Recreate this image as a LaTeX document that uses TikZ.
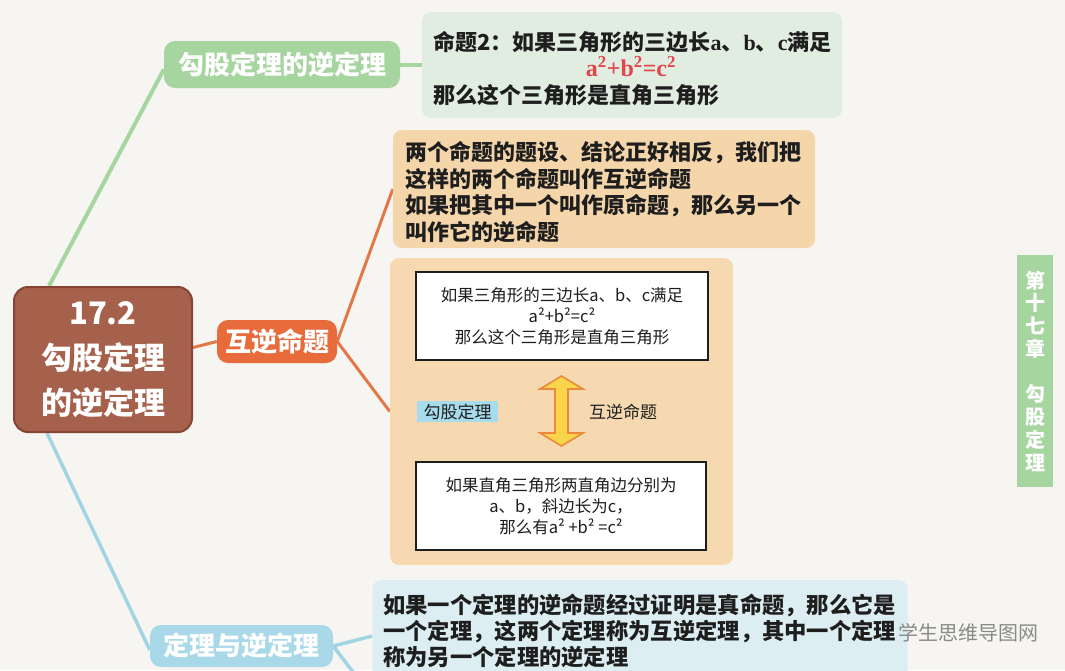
\documentclass[tikz,border=0pt]{standalone}
\usepackage{fontspec}
\setmainfont{Noto Sans CJK SC}
\newfontfamily\serifb{Liberation Serif}
\usetikzlibrary{calc}
\pgfdeclarelayer{bgl}
\pgfdeclarelayer{linel}
\pgfsetlayers{bgl,linel,main}
\definecolor{bgc}{HTML}{F6F5F2}
\definecolor{brownF}{HTML}{A5614B}
\definecolor{brownD}{HTML}{874434}
\definecolor{greenN}{HTML}{A6D5A0}
\definecolor{greenB}{HTML}{E2EDE2}
\definecolor{orangeN}{HTML}{E86B3C}
\definecolor{orangeL}{HTML}{E27848}
\definecolor{peach}{HTML}{F5D6AA}
\definecolor{peachB}{HTML}{F6D9B1}
\definecolor{blueN}{HTML}{A9D9E8}
\definecolor{blueL}{HTML}{A2D5E3}
\definecolor{blueB}{HTML}{DCEEF2}
\definecolor{lblue}{HTML}{A6DCEC}
\definecolor{arrowF}{HTML}{F8D54A}
\definecolor{arrowD}{HTML}{EA8A3A}
\definecolor{redF}{HTML}{E0464A}
\definecolor{txt}{HTML}{1E1E1E}
\definecolor{wm}{HTML}{8A8A8A}
\begin{document}
\begin{tikzpicture}[x=1pt,y=-1pt,
  cnode/.style={draw=brownD,line width=2pt,fill=brownF,rounded corners=14pt,
    minimum width=178pt,minimum height=145pt,text=white,align=center,inner sep=0pt,
    font=\fontsize{31}{45}\selectfont\bfseries},
  branch/.style={rounded corners=11pt,text=white,inner sep=0pt,
    font=\fontsize{26}{30}\selectfont\bfseries},
  pbox/.style={rounded corners=9pt,inner sep=0pt},
  booktxt/.style={anchor=west,align=left,inner sep=0pt,text=txt},
  wbox/.style={draw=txt,line width=1.6pt,fill=white,inner sep=0pt,align=center,
    minimum width=290pt,minimum height=88pt,text=txt,font=\fontsize{16.5}{21}\selectfont},
  gline/.style={greenN,line width=4pt},
  oline/.style={orangeL,line width=3pt},
  bline/.style={blueL,line width=3.5pt}]
\useasboundingbox (0,0) rectangle (1065,670);
\begin{pgfonlayer}{bgl}
\fill[bgc] (0,0) rectangle (1065,670);
\end{pgfonlayer}

% central node
\node[cnode] (center) at (103,359.5) {17.2\\勾股定理\\的逆定理};

% branch nodes
\node[branch,fill=greenN,minimum width=236pt,minimum height=47pt] (gn) at (282,64.5) {勾股定理的逆定理};
\node[branch,fill=orangeN,minimum width=120pt,minimum height=43pt] (on) at (277,341.5) {互逆命题};
\node[branch,fill=blueN,minimum width=183pt,minimum height=42pt] (bn) at (241.5,646) {定理与逆定理};

% green content
\node[pbox,fill=greenB,minimum width=420pt,minimum height=106pt] (gbox) at (632,65) {};
\node[booktxt,font=\fontsize{22}{26}\selectfont\bfseries] (g1) at (433,42) {命题2：如果三角形的三边长{\serifb a}、{\serifb b}、{\serifb c}满足};
\node[inner sep=0pt,text=redF,font=\fontsize{24}{26}\selectfont\bfseries\serifb] (g2) at (631,67) {a\textsuperscript{2}+b\textsuperscript{2}=c\textsuperscript{2}};
\node[booktxt,font=\fontsize{22}{26}\selectfont\bfseries] (g3) at (433,95) {那么这个三角形是直角三角形};

% orange content 1
\node[pbox,fill=peach,minimum width=422pt,minimum height=118pt] (ob1) at (604,189) {};
\node[booktxt,font=\fontsize{22}{26.7}\selectfont\bfseries] (o1t) at (405,192) {两个命题的题设、结论正好相反，我们把\\这样的两个命题叫作互逆命题\\如果把其中一个叫作原命题，那么另一个\\叫作它的逆命题};

% orange content 2
\node[pbox,fill=peachB,minimum width=343pt,minimum height=307pt] (ob2) at (561.5,411.5) {};
\node[wbox,minimum width=292pt] (w1) at (562,316) {如果三角形的三边长a、b、c满足\\a²+b²=c²\\那么这个三角形是直角三角形};
\node[wbox] (w2) at (561,506) {如果直角三角形两直角边分别为\\a、b，斜边长为c，\\那么有a² +b² =c²};
\node[fill=lblue,minimum width=81pt,minimum height=21pt,inner sep=0pt,text=txt,
  font=\fontsize{17}{20}\selectfont] (lbl) at (457.5,411.5) {勾股定理};
\node[inner sep=0pt,text=txt,font=\fontsize{17}{20}\selectfont] (hn) at (623,412) {互逆命题};
% double arrow
\draw[arrowD,fill=arrowF,line width=1.6pt,line join=miter]
  (561.5,376) -- (583,389) -- (568,389) -- (568,433) -- (583,433) -- (561.5,446)
  -- (540,433) -- (555,433) -- (555,389) -- (540,389) -- cycle;

% blue content
\node[pbox,fill=blueB,minimum width=535pt,minimum height=100pt] (bbox) at (640,630) {};
\node[booktxt,font=\fontsize{22.3}{26}\selectfont\bfseries] (b1t) at (383,631) {如果一个定理的逆命题经过证明是真命题，那么它是\\一个定理，这两个定理称为互逆定理，其中一个定理\\称为另一个定理的逆定理};

% side label
\node[fill=greenN,minimum width=36pt,minimum height=232pt,inner sep=0pt,text=white,align=center,
  font=\fontsize{20}{22.75}\selectfont\bfseries] (side) at (1035,371) {第\\十\\七\\章\\[22.75pt]勾\\股\\定\\理};

% watermark
\node[inner sep=0pt,text=wm,font=\fontsize{20}{22}\selectfont] (wmk) at (968,633) {学生思维导图网};

\coordinate (bdown) at (353,672);

% connectors
\begin{pgfonlayer}{linel}
\draw[gline] ([xshift=36pt]center.north west) -- ([yshift=-5pt]gn.west);
\draw[gline] (gn.east) -- (gn.east -| gbox.west);
\draw[oline] ([yshift=12pt]center.east) -- (on.west);
\draw[oline] (on.east) -- (ob1.west);
\draw[oline] (on.east) -- (ob2.west);
\draw[bline] ([xshift=34pt]center.south west) -- ([yshift=-4pt]bn.west);
\draw[bline] (bn.east) -- ([yshift=-6pt]bbox.west);
\draw[bline] (bn.east) -- (bdown);
\end{pgfonlayer}
\end{tikzpicture}
\end{document}
